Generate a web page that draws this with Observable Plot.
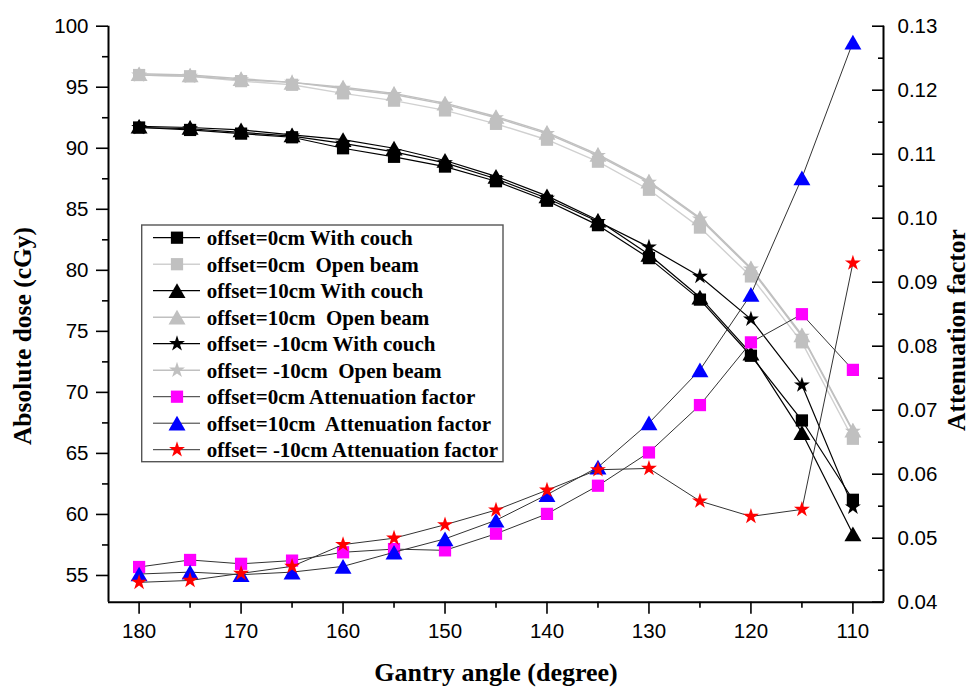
<!DOCTYPE html>
<html><head><meta charset="utf-8">
<script src="https://cdn.jsdelivr.net/npm/d3@7"></script>
<script src="https://cdn.jsdelivr.net/npm/@observablehq/plot@0.6"></script>
<style>
body{margin:0;background:#fff;}
svg text{white-space:pre;}
</style></head><body><div id="chart"></div>
<script>
// ---- data ----
const angles = [180,175,170,165,160,155,150,145,140,135,130,125,120,115,110];
const couch0   = [91.7,91.5,91.2,90.9,90.0,89.3,88.5,87.3,85.7,83.7,81.0,77.6,73.0,67.7,61.2];
const open0    = [96.0,95.9,95.5,95.2,94.5,93.9,93.1,92.0,90.7,88.9,86.6,83.5,79.5,74.1,66.2];
const couch10  = [91.8,91.7,91.5,91.1,90.7,90.0,89.0,87.7,86.1,84.1,81.3,77.8,73.2,66.7,58.4];
const open10   = [96.1,96.0,95.7,95.4,95.0,94.5,93.7,92.6,91.3,89.5,87.3,84.3,80.2,74.7,66.9];
const couchM10 = [91.7,91.6,91.3,91.0,90.4,89.7,88.8,87.5,85.9,84.0,81.9,79.5,76.0,70.6,60.6];
const openM10  = [96.0,95.9,95.6,95.4,94.9,94.4,93.6,92.5,91.2,89.4,87.2,84.2,80.1,74.6,66.8];
const att0   = [0.0455,0.0466,0.0460,0.0465,0.0478,0.0483,0.0481,0.0507,0.0538,0.0582,0.0634,0.0708,0.0806,0.0850,0.0763];
const att10  = [0.0444,0.0447,0.0443,0.0447,0.0456,0.0478,0.0499,0.0528,0.0568,0.0611,0.0680,0.0763,0.0881,0.1063,0.1275];
const attM10 = [0.0431,0.0434,0.0445,0.0456,0.0490,0.0500,0.0521,0.0544,0.0575,0.0607,0.0609,0.0558,0.0534,0.0545,0.0930];

const seriesLabels = [
  "offset=0cm With couch",
  "offset=0cm  Open beam",
  "offset=10cm With couch",
  "offset=10cm  Open beam",
  "offset= -10cm With couch",
  "offset= -10cm  Open beam",
  "offset=0cm Attenuation factor",
  "offset=10cm  Attenuation factor",
  "offset= -10cm Attenuation factor"
];
const leftTicks = [55,60,65,70,75,80,85,90,95,100];
const leftMinor = [57.5,62.5,67.5,72.5,77.5,82.5,87.5,92.5,97.5];
const rightTicks = [0.04,0.05,0.06,0.07,0.08,0.09,0.10,0.11,0.12,0.13];
const rightMinor = [0.045,0.055,0.065,0.075,0.085,0.095,0.105,0.115,0.125];
const xTicks = [180,170,160,150,140,130,120,110];
const xMinor = [175,165,155,145,135,125,115];

const xDomain = [183, 107];
const doseDomain = [52.81, 100];
const attDomain = [0.04, 0.13];
const attToDose = a => doseDomain[0] + (a - attDomain[0]) / (attDomain[1] - attDomain[0]) * (doseDomain[1] - doseDomain[0]);

// ---- styles ----
const GRAY = "#c0c0c0";
const styles = [
  {vals: couch0,   att:false, symbol:"square",   fill:"#000", line:"#000", lw:1.2},
  {vals: open0,    att:false, symbol:"square",   fill:GRAY,  line:"#d0d0d0", lw:1.4},
  {vals: couch10,  att:false, symbol:"triangle", fill:"#000", line:"#000", lw:1.2},
  {vals: open10,   att:false, symbol:"triangle", fill:GRAY,  line:GRAY, lw:1.4},
  {vals: couchM10, att:false, symbol:"star",     fill:"#000", line:"#000", lw:1.2},
  {vals: openM10,  att:false, symbol:"star",     fill:GRAY,  line:GRAY, lw:1.4},
  {vals: att0,     att:true,  symbol:"square",   fill:"#ff00ff", line:"#333", lw:1},
  {vals: att10,    att:true,  symbol:"triangle", fill:"#0000ff", line:"#333", lw:1},
  {vals: attM10,   att:true,  symbol:"star",     fill:"#ff0000", line:"#333", lw:1}
];
const symR = {square: 6.9, triangle: 6.3, star: 5.0};
const symDy = {square: 0, triangle: 2.4, star: 0};

const marks = [];
styles.forEach((s, i) => {
  const rows = angles.map((a, k) => ({angle: a, v: s.att ? attToDose(s.vals[k]) : s.vals[k]}));
  marks.push(Plot.line(rows, {x: "angle", y: "v", stroke: s.line, strokeWidth: s.lw}));
  marks.push(Plot.dot(rows, {x: "angle", y: "v", symbol: () => s.symbol, r: symR[s.symbol], fill: s.fill, stroke: "none", dy: symDy[s.symbol]}));
});

const axisFont = {fontSize: 20.5, fill: "#000"};
marks.push(
  // axis lines
  Plot.ruleX([xDomain[0]], {stroke: "#000", strokeWidth: 2}),
  Plot.ruleX([xDomain[1]], {stroke: "#000", strokeWidth: 2}),
  Plot.ruleY([doseDomain[0]], {stroke: "#000", strokeWidth: 2}),
  // left axis
  Plot.axisY({anchor: "left", label: null, ticks: leftTicks, tickSize: 12, tickPadding: 8, strokeWidth: 1.6, tickFormat: d => String(d), ...axisFont}),
  Plot.axisY({anchor: "left", label: null, ticks: leftMinor, tickSize: 6, strokeWidth: 1.6, tickFormat: () => ""}),
  // right axis (inward ticks)
  Plot.axisY({anchor: "right", label: null, ticks: rightTicks.map(attToDose), tickSize: 12, dx: -12, strokeWidth: 1.6, tickFormat: () => ""}),
  Plot.axisY({anchor: "right", label: null, ticks: rightMinor.map(attToDose), tickSize: 6, dx: -6, strokeWidth: 1.6, tickFormat: () => ""}),
  Plot.axisY({anchor: "right", label: null, ticks: rightTicks.map(attToDose), tickSize: 0, tickPadding: 14,
    tickFormat: (d, k) => rightTicks[k].toFixed(2), ...axisFont}),
  // bottom axis
  Plot.axisX({anchor: "bottom", label: null, ticks: xTicks, tickSize: 12, tickPadding: 9, strokeWidth: 1.6, tickFormat: d => String(d), ...axisFont}),
  Plot.axisX({anchor: "bottom", label: null, ticks: xMinor, tickSize: 6, strokeWidth: 1.6, tickFormat: () => ""})
);

const chart = Plot.plot({
  width: 974, height: 687,
  marginLeft: 108, marginRight: 91, marginTop: 25.7, marginBottom: 85.3,
  x: {domain: xDomain, axis: null},
  y: {domain: doseDomain, axis: null},
  style: {fontFamily: "'Liberation Sans', Arial, sans-serif", fontSize: "20px", background: "#fff", overflow: "visible"},
  marks
});
document.getElementById("chart").appendChild(chart);

// ---- axis titles & legend ----
const svg = d3.select(chart);
const titleFont = "'Liberation Serif', 'Times New Roman', serif";
svg.append("text").attr("x", 496).attr("y", 681).attr("text-anchor", "middle")
  .attr("font-family", titleFont).attr("font-weight", "bold").attr("font-size", 26).attr("fill", "#000")
  .text("Gantry angle (degree)");
svg.append("text").attr("transform", "translate(31,336) rotate(-90)").attr("text-anchor", "middle")
  .attr("font-family", titleFont).attr("font-weight", "bold").attr("font-size", 25.5).attr("fill", "#000")
  .text("Absolute dose (cGy)");
svg.append("text").attr("transform", "translate(965,330) rotate(-90)").attr("text-anchor", "middle")
  .attr("font-family", titleFont).attr("font-weight", "bold").attr("font-size", 25.5).attr("fill", "#000")
  .text("Attenuation factor");

const lg = svg.append("g").attr("text-anchor", "start");
lg.append("rect").attr("x", 141.7).attr("y", 225).attr("width", 361.3).attr("height", 236.7)
  .attr("fill", "#fff").attr("stroke", "#555").attr("stroke-width", 1.4);
const d3sym = {square: d3.symbolSquare, triangle: d3.symbolTriangle, star: d3.symbolStar};
styles.forEach((s, i) => {
  const yy = 237.7 + i * 26.5;
  lg.append("line").attr("x1", 153).attr("x2", 200).attr("y1", yy).attr("y2", yy)
    .attr("stroke", s.line).attr("stroke-width", s.lw);
  const r = symR[s.symbol];
  lg.append("path").attr("d", d3.symbol(d3sym[s.symbol], Math.PI * r * r)())
    .attr("transform", `translate(177,${yy + symDy[s.symbol]})`).attr("fill", s.fill);
  lg.append("text").attr("x", 206.7).attr("y", yy).attr("dy", "0.35em")
    .attr("text-anchor", "start")
    .attr("font-family", titleFont).attr("font-weight", "bold").attr("font-size", 21).attr("fill", "#000")
    .text(seriesLabels[i]);
});
</script></body></html>
